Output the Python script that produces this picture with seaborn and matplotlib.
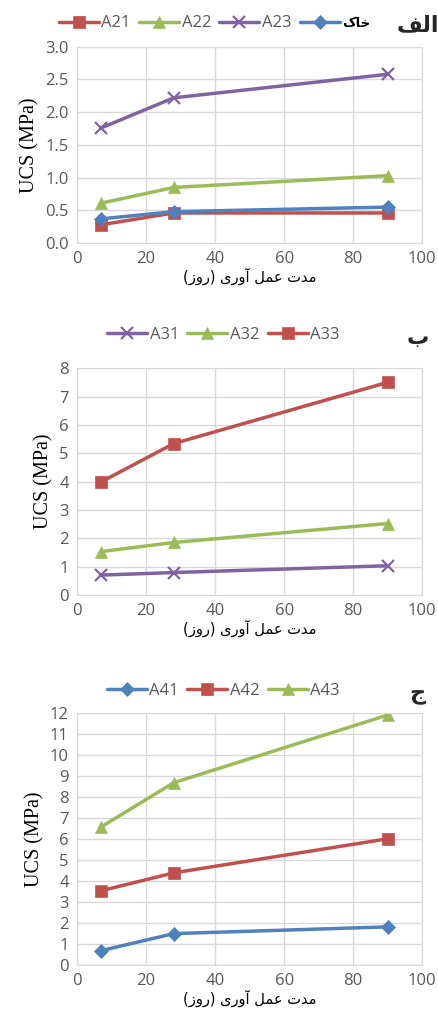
import pandas as pd
import matplotlib
matplotlib.use('Agg')
import matplotlib.pyplot as plt
import seaborn as sns

# ==========================================
# data (UCS in MPa vs curing time in days)
# ==========================================
days = [7, 28, 90]

# panel 1 (الف)
a21 = [0.28, 0.46, 0.46]
a22 = [0.61, 0.85, 1.03]
a23 = [1.76, 2.22, 2.58]
soil = [0.37, 0.48, 0.55]

# panel 2 (ب)
a31 = [0.70, 0.79, 1.03]
a32 = [1.53, 1.85, 2.52]
a33 = [3.99, 5.34, 7.50]

# panel 3 (ج)
a41 = [0.69, 1.50, 1.82]
a42 = [3.54, 4.39, 6.01]
a43 = [6.58, 8.68, 11.90]

# Arabic-script text pre-shaped (presentation forms, visual order) since matplotlib has no shaping
soil_label = '\uFB8E\uFE8E\uFEA7'           # خاک
xlabel_fa = '(\uFEAF\uFEED\uFEAD) \uFEEF\uFEAD\uFEED\uFE81 \uFEDE\uFEE4\uFECB \uFE95\uFEAA\uFEE3'  # مدت عمل آوری (روز)
panel_labels = ['\uFED2\uFEDF\uFE8D', '\uFE8F', '\uFE9D']  # الف ، ب ، ج

blue, red, green, purple = '#4F81BD', '#C0504D', '#9BBB59', '#8064A2'

panels = [
    dict(series=[('A21', a21, red, 's'), ('A22', a22, green, '^'),
                 ('A23', a23, purple, 'x'), (soil_label, soil, blue, 'D')],
         ylim=(0, 3), yticks=[0, 0.5, 1, 1.5, 2, 2.5, 3], fmt='{:.1f}',
         rect=[0.176, 0.761, 0.788, 0.193], leg=(0.49, 0.977), lab=(0.953, 0.975)),
    dict(series=[('A31', a31, purple, 'x'), ('A32', a32, green, '^'),
                 ('A33', a33, red, 's')],
         ylim=(0, 8), yticks=list(range(0, 9)), fmt='{:d}',
         rect=[0.176, 0.415, 0.788, 0.223], leg=(0.51, 0.671), lab=(0.953, 0.668)),
    dict(series=[('A41', a41, blue, 'D'), ('A42', a42, red, 's'),
                 ('A43', a43, green, '^')],
         ylim=(0, 12), yticks=list(range(0, 13)), fmt='{:d}',
         rect=[0.176, 0.051, 0.788, 0.248], leg=(0.51, 0.321), lab=(0.953, 0.318)),
]

sns.set_style('white')
plt.rcParams['font.family'] = ['Open Sans', 'DejaVu Sans']

fig = plt.figure(figsize=(4.38, 10.17), dpi=100)

for i, p in enumerate(panels):
    ax = fig.add_axes(p['rect'])
    for name, vals, col, mk in p['series']:
        df = pd.DataFrame({'days': days, 'ucs': vals})
        sns.lineplot(data=df, x='days', y='ucs', ax=ax, color=col, marker=mk,
                     markersize=9 if mk != 'D' else 7.5, linewidth=2.5,
                     markeredgecolor=col, markeredgewidth=1.6 if mk == 'x' else 0.5,
                     label=name)
    ax.set_xlim(0, 100)
    ax.set_ylim(*p['ylim'])
    ax.set_xticks([0, 20, 40, 60, 80, 100])
    ax.set_yticks(p['yticks'])
    ax.set_yticklabels([p['fmt'].format(t) for t in p['yticks']])
    ax.grid(True, color='#D9D9D9', linewidth=1)
    ax.set_axisbelow(True)
    for s in ax.spines.values():
        s.set_color('#D9D9D9')
    ax.tick_params(length=0, labelsize=12, labelcolor='#595959', pad=6)
    ax.set_ylabel('UCS (MPa)', family='Liberation Serif', fontsize=14.5, color='black', labelpad=4)
    ax.set_xlabel(xlabel_fa, family='DejaVu Sans', fontsize=10.5, color='black', labelpad=0)
    h, l = ax.get_legend_handles_labels()
    ax.legend_.remove()
    leg = fig.legend(h, l, loc='center', bbox_to_anchor=p['leg'], ncol=len(l),
                     frameon=False, fontsize=12, handlelength=2.4, columnspacing=0.5,
                     handletextpad=0.15, borderaxespad=0)
    for t in leg.get_texts():
        t.set_color('#595959')
        if t.get_text() == soil_label:
            t.set_family('DejaVu Sans')
            t.set_color('black')
            t.set_fontweight('bold')
            t.set_fontsize(9.5)
    fig.text(p['lab'][0], p['lab'][1], panel_labels[i], family='DejaVu Sans',
             fontsize=16, fontweight='bold', ha='center', va='center')

fig.savefig('out.png', dpi=100)
